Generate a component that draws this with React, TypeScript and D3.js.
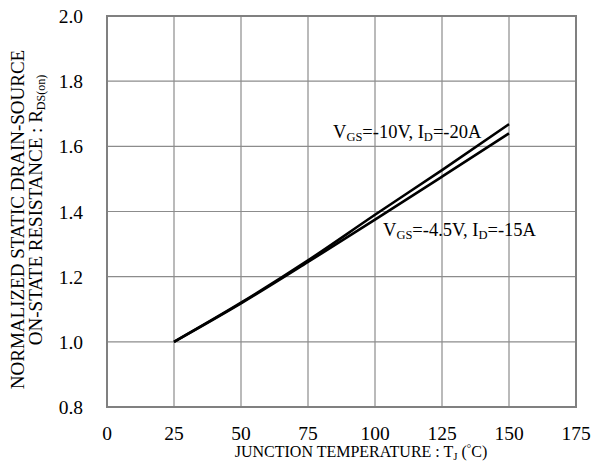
import React from "react";
import * as d3 from "d3";

const temps = [25, 50, 75, 100, 125, 150];
const seriesA = [1.0, 1.12, 1.25, 1.39, 1.527, 1.668]; // VGS=-10V, ID=-20A
const seriesB = [1.0, 1.118, 1.245, 1.375, 1.507, 1.64]; // VGS=-4.5V, ID=-15A
const xTicks = [0, 25, 50, 75, 100, 125, 150, 175];
const yTicks = [0.8, 1.0, 1.2, 1.4, 1.6, 1.8, 2.0];

export default function App() {
  const W = 592, H = 469;
  const left = 107, right = 576, top = 16, bottom = 407;
  const x = d3.scaleLinear().domain([0, 175]).range([left, right]);
  const y = d3.scaleLinear().domain([0.8, 2.0]).range([bottom, top]);
  const line = d3.line<number>().x((_, i) => x(temps[i])).y((d) => y(d)).curve(d3.curveMonotoneX);
  const ff = { fontFamily: "Liberation Serif" };
  return (
    <svg width={W} height={H} style={{ position: "absolute", left: 0, top: 0 }}>
      <rect width={W} height={H} fill="white" />
      {xTicks.slice(1, -1).map((t) => (
        <line key={"gx" + t} x1={x(t)} x2={x(t)} y1={top} y2={bottom} stroke="#8c8c8c" strokeWidth={1.2} />
      ))}
      {yTicks.slice(1, -1).map((t) => (
        <line key={"gy" + t} x1={left} x2={right} y1={y(t)} y2={y(t)} stroke="#8c8c8c" strokeWidth={1.2} />
      ))}
      <rect x={left} y={top} width={right - left} height={bottom - top} fill="none" stroke="#808080" strokeWidth={2} />
      <g style={ff}>
        {xTicks.map((t) => (
          <text key={"tx" + t} x={x(t)} y={440} textAnchor="middle" fontSize={19.5}>{t}</text>
        ))}
        {yTicks.map((t) => (
          <text key={"ty" + t} x={83} y={y(t) + 7} textAnchor="end" fontSize={19.5}>{t.toFixed(1)}</text>
        ))}
      </g>
      <path d={line(seriesA) || ""} fill="none" stroke="black" strokeWidth={2.6} />
      <path d={line(seriesB) || ""} fill="none" stroke="black" strokeWidth={2.6} />
      <g style={ff}>
        <text x={333} y={137.5} fontSize={18.5}>
          V<tspan fontSize={12.5} dy={3}>GS</tspan><tspan dy={-3}>=-10V, I</tspan><tspan fontSize={12.5} dy={3}>D</tspan><tspan dy={-3}>=-20A</tspan>
        </text>
        <text x={383} y={236} fontSize={18.5}>
          V<tspan fontSize={12.5} dy={3}>GS</tspan><tspan dy={-3}>=-4.5V, I</tspan><tspan fontSize={12.5} dy={3}>D</tspan><tspan dy={-3}>=-15A</tspan>
        </text>
        <text x={361} y={457} textAnchor="middle" fontSize={16}>
          JUNCTION TEMPERATURE : T<tspan fontSize={11} dy={3}>J</tspan><tspan dy={-3}> (</tspan><tspan fontSize={11} dy={-5}>°</tspan><tspan dy={5}>C)</tspan>
        </text>
        <text transform="translate(24, 219.5) rotate(-90)" textAnchor="middle" fontSize={19}>NORMALIZED STATIC DRAIN-SOURCE</text>
        <text transform="translate(42, 210) rotate(-90)" textAnchor="middle" fontSize={19}>
          ON-STATE RESISTANCE : R<tspan fontSize={12} dy={3}>DS(on)</tspan>
        </text>
      </g>
    </svg>
  );
}
